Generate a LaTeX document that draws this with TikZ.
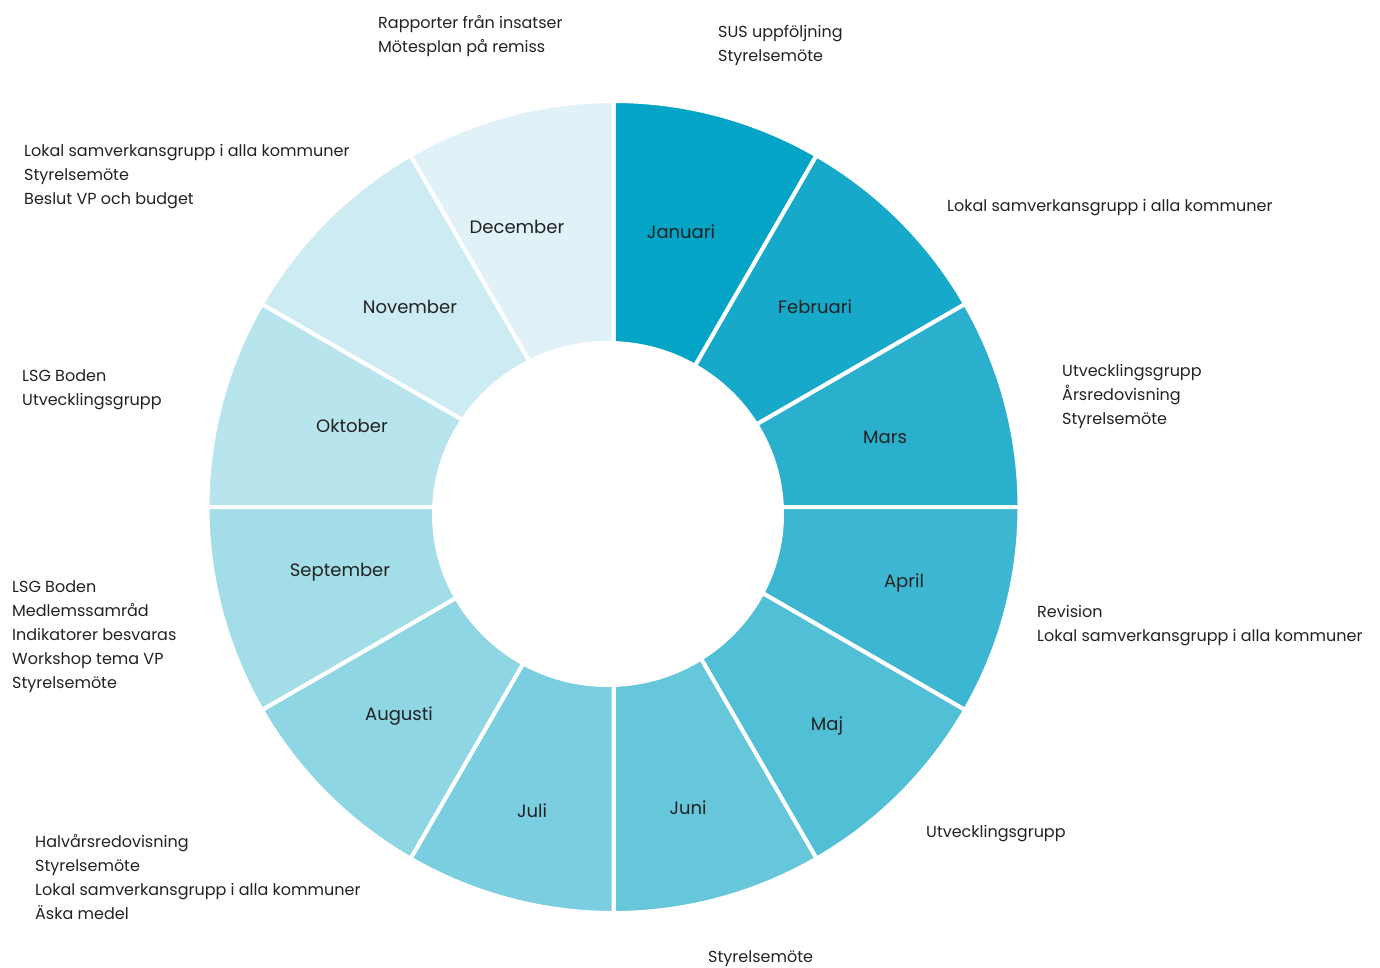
\documentclass[tikz,border=0pt]{standalone}
\usepackage{fontspec}
\setmainfont{Poppins}
\definecolor{m0}{HTML}{03A4C5}
\definecolor{m1}{HTML}{17A9C9}
\definecolor{m2}{HTML}{2AAFCD}
\definecolor{m3}{HTML}{3DB7D1}
\definecolor{m4}{HTML}{51BFD6}
\definecolor{m5}{HTML}{66C6DA}
\definecolor{m6}{HTML}{7ACEE0}
\definecolor{m7}{HTML}{8ED6E4}
\definecolor{m8}{HTML}{A3DDE8}
\definecolor{m9}{HTML}{B7E4ED}
\definecolor{m10}{HTML}{CCEBF2}
\definecolor{m11}{HTML}{E0F2F7}
\definecolor{txt}{HTML}{222222}
\begin{document}
\begin{tikzpicture}[x=1pt,y=-1pt,
  seg/.style={draw=white,line width=4pt},
  month/.style={font=\fontsize{18}{21}\selectfont, text=txt, inner sep=0pt},
  note/.style={font=\fontsize{16}{24}\selectfont, align=left, anchor=north west, inner sep=0pt, text=txt}]
\useasboundingbox (0,0) rectangle (1380,967);
\coordinate (c) at (613.5,507);
\coordinate (ci) at (608,514);
\foreach \i in {0,...,11} {
  \pgfmathsetmacro\a{-90+30*\i}
  \pgfmathsetmacro\b{-60+30*\i}
  \path[seg, fill=m\i, shift={(c)}] (0,0) -- (\a:406) arc[start angle=\a, end angle=\b, radius=406] -- cycle;
}
\fill[white] (ci) ellipse[x radius=176, y radius=173];
\node[month] (jan) at (681,232) {Januari};
\node[month] (feb) at (815,307) {Februari};
\node[month] (mar) at (885,437) {Mars};
\node[month] (apr) at (904,583) {April};
\node[month] (maj) at (827,726) {Maj};
\node[month] (jun) at (688,808) {Juni};
\node[month] (jul) at (532,811) {Juli};
\node[month] (aug) at (399,716) {Augusti};
\node[month] (sep) at (340,572) {September};
\node[month] (okt) at (352,426) {Oktober};
\node[month] (nov) at (410,307) {November};
\node[month] (dec) at (517,227) {December};

\node[note] (ndec) at (378,15) {Rapporter från insatser\\Mötesplan på remiss};
\node[note] (njan) at (718,25) {SUS uppföljning\\Styrelsemöte};
\node[note] (nfeb) at (947,199) {Lokal samverkansgrupp i alla kommuner};
\node[note] (nmar) at (1062,364) {Utvecklingsgrupp\\Årsredovisning\\Styrelsemöte};
\node[note] (napr) at (1037,605) {Revision\\Lokal samverkansgrupp i alla kommuner};
\node[note] (nmaj) at (926,825) {Utvecklingsgrupp};
\node[note] (njun) at (708,950) {Styrelsemöte};
\node[note] (njul) at (35,834) {Halvårsredovisning\\Styrelsemöte\\Lokal samverkansgrupp i alla kommuner\\Äska medel};
\node[note] (nsep) at (12,580) {LSG Boden\\Medlemssamråd\\Indikatorer besvaras\\Workshop tema VP\\Styrelsemöte};
\node[note] (nokt) at (22,369) {LSG Boden\\Utvecklingsgrupp};
\node[note] (nnov) at (24,144) {Lokal samverkansgrupp i alla kommuner\\Styrelsemöte\\Beslut VP och budget};
\end{tikzpicture}
\end{document}
